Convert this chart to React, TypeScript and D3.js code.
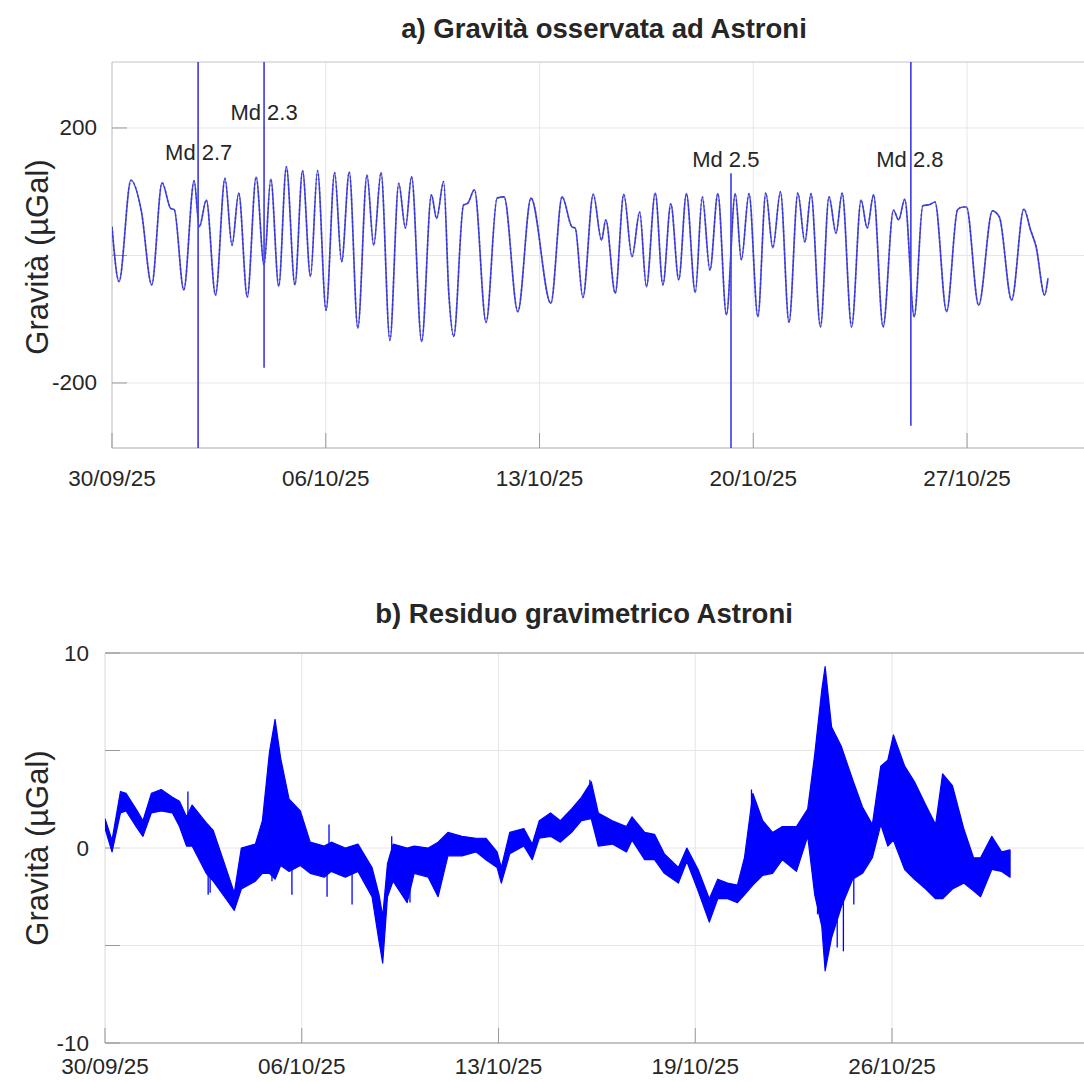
import React from "react";
import * as d3 from "d3";

const W = 1084;
const H = 1082;
const FONT = "'Liberation Sans', Arial, Helvetica, sans-serif";

// ---------- Panel a) observed gravity (days since first tick, µGal) ----------
const obsDay = [
  0.0, 0.23, 0.62, 0.96, 1.3, 1.64, 1.92, 2.04, 2.35, 2.69, 2.86, 3.09, 3.39, 3.7, 3.93, 4.15, 4.43, 4.72, 4.98,
  5.2, 5.46, 5.71, 5.99, 6.24, 6.5, 6.73, 7.01, 7.29, 7.52, 7.77, 8.05, 8.35, 8.57, 8.81, 9.1, 9.39, 9.61, 9.81,
  10.14, 10.46, 10.63, 10.86, 11.03, 11.19, 11.51, 11.65, 11.87, 12.25, 12.61, 12.84, 13.29, 13.72, 14.37, 14.74,
  15.06, 15.17, 15.42, 15.76, 16.03, 16.17, 16.48, 16.76, 17.03, 17.28, 17.5, 17.79, 18.04, 18.3, 18.56, 18.81,
  19.1, 19.33, 19.58, 19.84, 20.12, 20.41, 20.61, 20.86, 21.15, 21.41, 21.64, 21.89, 22.17, 22.46, 22.69, 22.89,
  23.2, 23.48, 23.71, 23.91, 24.22, 24.53, 24.73, 24.94, 25.25, 25.59, 25.76, 25.96, 26.27, 26.55, 26.78, 26.95,
  27.33, 27.69, 27.87, 27.98, 28.38, 28.83, 29.06, 29.46, 29.86, 30.08, 30.26, 30.54, 30.65,
];
const obsGal = [
  45, -41, 118, 70, -46, 114, 74, 72, -54, 117, 45, 87, -62, 121, 16, 98, -65, 123, -15,
  120, -48, 139, -46, 133, -33, 133, -86, 130, -10, 131, -114, 126, 16, 130, -133, 113, 43, 124,
  -135, 95, 58, 116, -60, -127, 79, 82, 103, -105, 90, 92, -88, 90, -75, 92,
  45, 43, -66, 96, 24, 56, -59, 96, -2, 68, -49, 98, -46, 81, -38, 97,
  -58, 92, -23, 97, -93, 97, -7, 97, -96, 98, 12, 100, -105, 98, 21, 97,
  -112, 92, 35, 98, -112, 87, 43, 95, -112, 71, 56, 88, -96, 78, 80, 84,
  -88, 72, 76, 76, -78, 70, 60, -70, 73, 40, 14, -62, -36,
];

// Earthquake transients
const eventDay = [2.82, 4.98, 20.27, 26.16];
const eventLabel = ["Md 2.7", "Md 2.3", "Md 2.5", "Md 2.8"];
const eventMin = [-310, -176, -310, -267];
const eventMax = [310, 310, 129, 310];
const eventLabelDay = [2.84, 4.98, 20.1, 26.13];
const eventLabelGal = [150, 212, 139, 139];

const topTickDays = [0, 7, 14, 21, 28];
const topTickLabels = ["30/09/25", "06/10/25", "13/10/25", "20/10/25", "27/10/25"];
const topYTicks = [-200, 0, 200];
const topYLabels = ["-200", "", "200"];

// ---------- Panel b) gravity residual envelope ----------
const resDay = [
  0.0, 0.25, 0.55, 0.75, 1.15, 1.35, 1.65, 2.0, 2.4, 2.65, 2.9, 3.1, 3.6, 3.85, 4.25, 4.6, 4.85, 5.35, 5.6, 5.85,
  6.05, 6.25, 6.55, 6.95, 7.3, 7.8, 8.05, 8.55, 9.0, 9.5, 9.75, 9.88, 10.05, 10.25, 10.75, 11.0, 11.5, 11.85,
  12.2, 12.7, 13.2, 13.55, 13.95, 14.1, 14.4, 14.9, 15.2, 15.45, 15.85, 16.2, 16.6, 16.95, 17.3, 17.55, 18.05,
  18.55, 18.75, 19.2, 19.55, 19.9, 20.4, 20.7, 21.1, 21.5, 21.8, 22.15, 22.5, 22.75, 23.05, 23.4, 23.75, 24.1,
  24.6, 25.0, 25.25, 25.5, 25.62, 25.85, 26.2, 26.6, 26.95, 27.3, 27.6, 27.85, 28.05, 28.45, 28.8, 29.2, 29.55,
  29.8, 30.15, 30.55, 30.9, 31.15, 31.55, 31.9, 32.2,
];
const resLow = [
  1.0, -0.2, 1.8, 1.9, 1.0, 0.6, 1.8, 1.9, 1.8, 1.1, 0.1, 0.1, -1.3, -1.7, -2.5, -3.2, -2.1, -1.7, -1.3, -1.3,
  -1.6, -0.9, -1.2, -0.9, -1.3, -1.5, -1.2, -1.5, -1.2, -2.5, -4.8, -5.9, -2.5, -1.7, -2.8, -1.3, -1.5, -2.5,
  -0.4, -0.4, -0.2, -0.6, -1.0, -1.8, -0.3, 0.1, -0.6, 0.5, 0.6, 0.3, 0.8, 1.4, 1.5, 0.1, 0.2,
  -0.2, 0.4, -0.6, -0.6, -1.3, -1.8, -0.7, -2.2, -3.8, -2.6, -2.6, -2.8, -2.4, -1.9, -1.4, -1.3, -0.6,
  -1.2, 0.6, -2.4, -4.0, -6.3, -4.6, -3.0, -1.6, -1.3, -0.5, 1.2, 0.1, 0.4, -1.1, -1.6, -2.1, -2.6,
  -2.6, -2.1, -1.8, -2.2, -2.5, -1.1, -1.2, -1.5,
];
const resHigh = [
  1.5, 0.4, 2.9, 2.8, 1.9, 1.4, 2.8, 3.0, 2.6, 2.4, 1.6, 2.2, 1.3, 0.9, -0.8, -2.3, 0.0, 0.2, 1.4, 4.9,
  6.6, 4.6, 2.5, 1.9, 0.3, 0.1, 0.3, 0.0, 0.2, -1.0, -2.4, -3.5, -0.8, 0.2, 0.0, 0.1, 0.0, 0.3,
  0.8, 0.6, 0.5, 0.5, -0.2, -1.0, 0.8, 1.0, 0.2, 1.4, 1.8, 1.4, 2.0, 2.6, 3.4, 1.8, 1.4,
  1.1, 1.6, 0.8, 0.7, -0.3, -1.0, 0.0, -1.1, -2.6, -1.6, -1.8, -1.9, -0.5, 2.8, 1.4, 0.8, 1.1,
  1.1, 2.0, 4.8, 8.1, 9.3, 6.2, 5.2, 3.5, 2.1, 1.2, 4.2, 4.5, 5.8, 4.2, 3.4, 2.2, 1.2,
  3.8, 3.2, 1.0, -0.5, -0.5, 0.6, -0.2, -0.1,
];
// isolated spikes in the residual: [day, from, to]
const spikeDay = [2.95, 3.67, 3.74, 5.94, 6.65, 7.9, 7.97, 8.79, 10.2, 10.85, 17.25, 23.0, 25.35, 26.05, 26.27, 26.64];
const spikeFrom = [1.2, 0.0, -0.4, 0.0, -0.4, -0.6, -0.6, -0.6, -0.8, -1.0, 2.0, 0.0, 0.5, 0.5, 0.5, 0.8];
const spikeTo = [2.9, -2.4, -2.3, -1.7, -2.4, -2.5, 1.2, -2.9, 0.6, -2.8, 3.5, 3.0, -3.4, -5.1, -5.3, -2.9];

const botTickDays = [0, 7, 14, 21, 28];
const botTickLabels = ["30/09/25", "06/10/25", "13/10/25", "19/10/25", "26/10/25"];
const botYTicks = [-10, -5, 0, 5, 10];
const botYLabels = ["-10", "", "0", "", "10"];

export default function App() {
  // panel a scales
  const xA = d3.scaleLinear().domain([0, 31.83]).range([112, 1084]);
  const yA = d3.scaleLinear().domain([-302, 303.5]).range([448, 62]);
  // panel b scales
  const xB = d3.scaleLinear().domain([0, 34.83]).range([105, 1084]);
  const yB = d3.scaleLinear().domain([-10, 10]).range([1043, 653]);

  const obsIdx = d3.range(obsDay.length);
  const obsLine = d3
    .line<number>()
    .x((i) => xA(obsDay[i]))
    .y((i) => yA(obsGal[i]))
    .curve(d3.curveMonotoneX);

  const resIdx = d3.range(resDay.length);
  const resArea = d3
    .area<number>()
    .x((i) => xB(resDay[i]))
    .y0((i) => yB(resLow[i]))
    .y1((i) => yB(resHigh[i]))
    .curve(d3.curveLinear);

  const gridColor = "#e6e6e6";
  const axisColor = "#c4c4c4";
  const tickColor = "#9a9a9a";
  const textColor = "#262626";
  const tickFont = 22.5;

  return (
    <svg
      width={W}
      height={H}
      viewBox={`0 0 ${W} ${H}`}
      style={{ position: "absolute", left: 0, top: 0, background: "#fff", display: "block" }}
      fontFamily={FONT}
    >
      <defs>
        <clipPath id="clipA">
          <rect x={112} y={62} width={W - 112} height={448 - 62} />
        </clipPath>
        <clipPath id="clipB">
          <rect x={105} y={653} width={W - 105} height={1043 - 653} />
        </clipPath>
      </defs>
      <rect x={0} y={0} width={W} height={H} fill="#fff" />

      {/* ===== Panel a ===== */}
      <text x={604} y={38} textAnchor="middle" fontSize={27.5} fontWeight="bold" fill={textColor}>
        a) Gravità osservata ad Astroni
      </text>
      {topYTicks.map((t) => (
        <line key={"ag" + t} x1={112} x2={W} y1={yA(t)} y2={yA(t)} stroke={gridColor} strokeWidth={1} />
      ))}
      {topTickDays.slice(1).map((d) => (
        <line key={"avg" + d} x1={xA(d)} x2={xA(d)} y1={62} y2={448} stroke={gridColor} strokeWidth={1} />
      ))}
      <line x1={112} x2={W} y1={62} y2={62} stroke={axisColor} strokeWidth={1.2} />
      <line x1={112} x2={112} y1={62} y2={448} stroke={axisColor} strokeWidth={1.2} />
      <line x1={112} x2={W} y1={448} y2={448} stroke={axisColor} strokeWidth={1.6} />
      {topYTicks.map((t) => (
        <line key={"at" + t} x1={112} x2={127} y1={yA(t)} y2={yA(t)} stroke={tickColor} strokeWidth={1} />
      ))}
      {topTickDays.map((d) => (
        <line key={"axt" + d} x1={xA(d)} x2={xA(d)} y1={448} y2={433} stroke={tickColor} strokeWidth={1} />
      ))}
      <g clipPath="url(#clipA)">
        <path d={obsLine(obsIdx) || ""} fill="none" stroke="#4343de" strokeWidth={1.6} />
        <path
          d={obsLine(obsIdx) || ""}
          fill="none"
          stroke="#2a2ab8"
          strokeWidth={1.8}
          strokeDasharray="1.5 3"
          opacity={0.55}
        />
        {eventDay.map((d, i) => (
          <line
            key={"ev" + i}
            x1={xA(d)}
            x2={xA(d)}
            y1={yA(eventMin[i])}
            y2={yA(eventMax[i])}
            stroke="#4646e6"
            strokeWidth={1.7}
          />
        ))}
      </g>
      {eventLabel.map((l, i) => (
        <text
          key={"el" + i}
          x={xA(eventLabelDay[i])}
          y={yA(eventLabelGal[i])}
          textAnchor="middle"
          fontSize={22}
          fill={textColor}
        >
          {l}
        </text>
      ))}
      {topYTicks.map((t, i) =>
        topYLabels[i] ? (
          <text
            key={"ayl" + t}
            x={97}
            y={yA(t)}
            textAnchor="end"
            dominantBaseline="central"
            fontSize={tickFont}
            fill={textColor}
          >
            {topYLabels[i]}
          </text>
        ) : null
      )}
      {topTickDays.map((d, i) => (
        <text key={"axl" + d} x={xA(d)} y={486} textAnchor="middle" fontSize={tickFont} fill={textColor}>
          {topTickLabels[i]}
        </text>
      ))}
      <text
        transform={`translate(48,257) rotate(-90)`}
        textAnchor="middle"
        fontSize={31}
        fill={textColor}
      >
        Gravità (µGal)
      </text>

      {/* ===== Panel b ===== */}
      <text x={584} y={623} textAnchor="middle" fontSize={27.5} fontWeight="bold" fill={textColor}>
        b) Residuo gravimetrico Astroni
      </text>
      {botYTicks.map((t) => (
        <line key={"bg" + t} x1={105} x2={W} y1={yB(t)} y2={yB(t)} stroke={gridColor} strokeWidth={1} />
      ))}
      {botTickDays.slice(1).map((d) => (
        <line key={"bvg" + d} x1={xB(d)} x2={xB(d)} y1={653} y2={1043} stroke={gridColor} strokeWidth={1} />
      ))}
      <line x1={105} x2={W} y1={653} y2={653} stroke={axisColor} strokeWidth={2.2} />
      <line x1={105} x2={105} y1={653} y2={1043} stroke="#e0e0e0" strokeWidth={1.2} />
      <line x1={105} x2={W} y1={1043} y2={1043} stroke={axisColor} strokeWidth={2} />
      {botYTicks.map((t) => (
        <line key={"bt" + t} x1={105} x2={120} y1={yB(t)} y2={yB(t)} stroke={tickColor} strokeWidth={1} />
      ))}
      {botTickDays.map((d) => (
        <line key={"bxt" + d} x1={xB(d)} x2={xB(d)} y1={1043} y2={1028} stroke={tickColor} strokeWidth={1} />
      ))}
      <g clipPath="url(#clipB)">
        <path d={resArea(resIdx) || ""} fill="#0000ff" stroke="#0000ff" strokeWidth={1.2} strokeLinejoin="round" />
        {spikeDay.map((d, i) => (
          <line
            key={"sp" + i}
            x1={xB(d)}
            x2={xB(d)}
            y1={yB(spikeFrom[i])}
            y2={yB(spikeTo[i])}
            stroke="#0000ff"
            strokeWidth={1.3}
          />
        ))}
      </g>
      {botYTicks.map((t, i) =>
        botYLabels[i] ? (
          <text
            key={"byl" + t}
            x={89}
            y={yB(t)}
            textAnchor="end"
            dominantBaseline="central"
            fontSize={tickFont}
            fill={textColor}
          >
            {botYLabels[i]}
          </text>
        ) : null
      )}
      {botTickDays.map((d, i) => (
        <text key={"bxl" + d} x={xB(d)} y={1074} textAnchor="middle" fontSize={tickFont} fill={textColor}>
          {botTickLabels[i]}
        </text>
      ))}
      <text
        transform={`translate(48,848) rotate(-90)`}
        textAnchor="middle"
        fontSize={31}
        fill={textColor}
      >
        Gravità (µGal)
      </text>
    </svg>
  );
}
